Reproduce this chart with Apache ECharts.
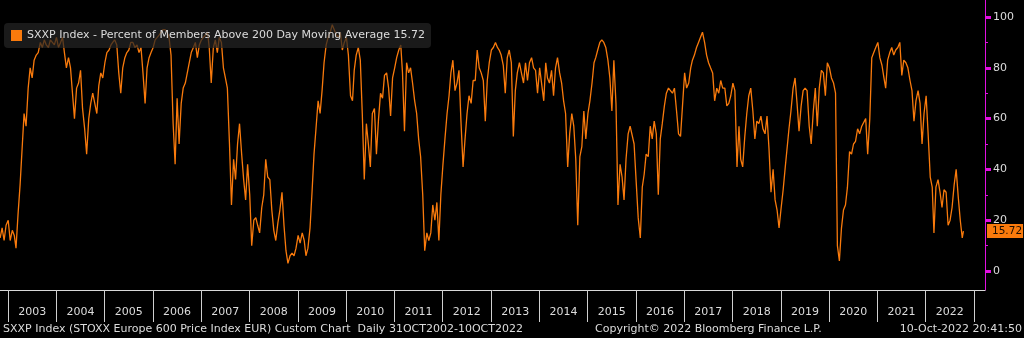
<!DOCTYPE html>
<html>
<head>
<meta charset="utf-8">
<script src="https://cdn.jsdelivr.net/npm/echarts@6/dist/echarts.min.js"></script>
<style>
html,body{margin:0;padding:0;background:#000;}
#c{width:1024px;height:338px;}
</style>
</head>
<body>
<div id="c"></div>
<script>
// ---- data (semi-monthly readings: 1st and 16th of each month) ----
const v2002 = [13, 17, 12, 18]; // Nov 1, Nov 16, Dec 1, Dec 16
const v2003 = [20, 12, 16, 14, 9, 22, 34, 48, 62, 57, 72, 80, 76, 83, 85, 86, 90, 88, 91, 89, 88, 91, 90, 89];
const v2004 = [92, 88, 90, 92, 86, 80, 84, 80, 70, 60, 72, 74, 79, 64, 56, 46, 60, 66, 70, 70, 62, 73, 78, 76];
const v2005 = [82, 86, 87, 89, 90, 91, 89, 78, 70, 80, 84, 86, 87, 90, 90, 88, 89, 86, 88, 78, 66, 80, 84, 86];
const v2006 = [88, 91, 92, 93, 94, 95, 95, 94, 92, 85, 58, 42, 68, 50, 66, 72, 74, 74, 82, 86, 88, 90, 84, 89];
const v2007 = [91, 92, 93, 94, 88, 74, 88, 91, 86, 92, 90, 80, 76, 72, 50, 26, 44, 36, 50, 58, 46, 36, 28, 42];
const v2008 = [30, 10, 20, 21, 18, 15, 25, 30, 44, 37, 36, 24, 16, 12, 19, 24, 31, 18, 8, 3, 6, 7, 6, 9];
const v2009 = [14, 11, 15, 12, 6, 9, 17, 31, 46, 56, 67, 62, 71, 82, 89, 92, 94, 97, 95, 93, 92, 94, 87, 90];
const v2010 = [92, 85, 69, 67, 79, 85, 88, 83, 62, 36, 58, 50, 41, 62, 64, 46, 60, 70, 68, 77, 78, 72, 61, 76];
const v2011 = [80, 84, 87, 89, 78, 55, 82, 78, 80, 74, 67, 62, 52, 45, 30, 8, 15, 12, 15, 26, 20, 27, 12, 30];
const v2012 = [42, 52, 62, 69, 78, 83, 71, 74, 79, 59, 41, 52, 62, 69, 66, 75, 75, 87, 80, 78, 75, 59, 75, 82];
const v2013 = [87, 88, 90, 88, 87, 85, 81, 70, 84, 87, 82, 53, 71, 78, 82, 78, 74, 82, 75, 82, 84, 80, 79, 70];
const v2014 = [80, 80, 67, 82, 76, 74, 79, 69, 80, 84, 78, 74, 67, 62, 41, 54, 62, 57, 44, 18, 45, 49, 63, 52];
const v2015 = [62, 67, 74, 82, 84, 87, 90, 91, 90, 88, 83, 76, 63, 83, 66, 26, 42, 37, 28, 44, 54, 57, 57, 50];
const v2016 = [35, 21, 13, 33, 38, 46, 45, 57, 52, 59, 54, 30, 52, 58, 65, 70, 72, 71, 70, 72, 63, 54, 53, 65];
const v2017 = [78, 72, 74, 80, 83, 85, 88, 90, 92, 94, 90, 85, 82, 80, 78, 67, 72, 70, 75, 72, 72, 65, 66, 69];
const v2018 = [74, 71, 41, 57, 44, 41, 53, 62, 69, 72, 63, 52, 59, 58, 61, 56, 54, 61, 48, 31, 40, 28, 24, 17];
const v2019 = [25, 32, 41, 49, 56, 63, 72, 76, 66, 55, 65, 71, 72, 71, 57, 50, 63, 72, 57, 72, 79, 78, 69, 82];
const v2020 = [80, 76, 74, 70, 10, 4, 17, 24, 26, 33, 47, 46, 50, 51, 56, 54, 57, 57, 60, 46, 60, 84, 86, 88];
const v2021 = [90, 84, 81, 76, 72, 83, 86, 88, 85, 87, 88, 90, 77, 83, 82, 80, 75, 71, 59, 67, 71, 66, 50, 62];
const v2022 = [69, 54, 37, 33, 15, 33, 36, 31, 25, 32, 31, 18, 20, 25, 34, 40, 29, 20, 13]; // Jan 1 .. Oct 1
const lastDate = '2022-10-10';
const lastValue = 15.72;

const yearLabels = ['2003','2004','2005','2006','2007','2008','2009','2010','2011','2012',
                    '2013','2014','2015','2016','2017','2018','2019','2020','2021','2022'];
const yTicks = [0, 20, 40, 60, 80, 100];

const seriesName = 'SXXP Index - Percent of Members Above 200 Day Moving Average 15.72';
const footerLeft = 'SXXP Index (STOXX Europe 600 Price Index EUR) Custom Chart  Daily 31OCT2002-10OCT2022';
const footerMid = 'Copyright\u00A9 2022 Bloomberg Finance L.P.';
const footerRight = '10-Oct-2022 20:41:50';

// ---- build [date, value] pairs ----
function ds(y, m, d) {
  return y + '-' + String(m + 1).padStart(2, '0') + '-' + String(d).padStart(2, '0');
}
const yearArrays = [[2003, v2003],[2004, v2004],[2005, v2005],[2006, v2006],[2007, v2007],
  [2008, v2008],[2009, v2009],[2010, v2010],[2011, v2011],[2012, v2012],[2013, v2013],
  [2014, v2014],[2015, v2015],[2016, v2016],[2017, v2017],[2018, v2018],[2019, v2019],
  [2020, v2020],[2021, v2021],[2022, v2022]];
const points = [];
v2002.forEach((v, i) => points.push([ds(2002, 10 + Math.floor(i / 2), i % 2 ? 16 : 1), v]));
yearArrays.forEach(([y, arr]) => arr.forEach((v, i) => points.push([ds(y, Math.floor(i / 2), i % 2 ? 16 : 1), v])));
points.push([lastDate, lastValue]);

const FONT = 'DejaVu Sans';
const TXT = '#dcdcdc';
const ORANGE = '#f97a0c';
const MAG = '#e010e0';

const chart = echarts.init(document.getElementById('c'), null, {renderer: 'canvas'});
chart.setOption({
  backgroundColor: '#000',
  animation: false,
  textStyle: {fontFamily: FONT},
  title: [
    {text: footerLeft, left: 3, top: 324, padding: 0, textStyle: {color: TXT, fontSize: 11, fontWeight: 'normal', fontFamily: FONT}},
    {text: footerMid, left: 595, top: 324, padding: 0, textStyle: {color: TXT, fontSize: 11, fontWeight: 'normal', fontFamily: FONT}},
    {text: footerRight, right: 2, top: 324, padding: 0, textStyle: {color: TXT, fontSize: 11, fontWeight: 'normal', fontFamily: FONT}}
  ],
  legend: {
    left: 4, top: 23,
    padding: [7, 6, 7, 7],
    itemWidth: 11, itemHeight: 11,
    icon: 'rect',
    selectedMode: false,
    backgroundColor: 'rgba(36,36,36,0.72)',
    borderRadius: 4,
    textStyle: {color: TXT, fontSize: 11, fontFamily: FONT},
    data: [{name: seriesName, itemStyle: {color: ORANGE}}]
  },
  grid: [
    {left: 0, right: 39, top: 17, bottom: 67},      // data grid (0..100)
    {left: 8, right: 50, top: 290, height: 32},     // year band
    {left: 0, right: 39, top: 0, height: 290}       // frame (axis lines)
  ],
  xAxis: [
    {gridIndex: 0, type: 'time', min: '2002-10-31', max: '2023-03-22',
      axisLine: {show: false}, axisTick: {show: false}, axisLabel: {show: false}, splitLine: {show: false}},
    {gridIndex: 1, type: 'category', data: yearLabels, position: 'bottom', boundaryGap: true,
      axisLine: {show: false},
      axisTick: {show: true, inside: true, length: 32, interval: 0, lineStyle: {color: '#cfcfcf', width: 1}},
      axisLabel: {inside: true, margin: 4, interval: 0, color: TXT, fontSize: 11, fontFamily: FONT},
      splitLine: {show: false}},
    {gridIndex: 2, type: 'value', min: 0, max: 1, position: 'bottom',
      axisLine: {show: true, onZero: false, lineStyle: {color: '#d8d8d8', width: 1}},
      axisTick: {show: false}, axisLabel: {show: false}, splitLine: {show: false}}
  ],
  yAxis: [
    {gridIndex: 0, type: 'value', position: 'right', min: yTicks[0], max: yTicks[yTicks.length - 1], interval: 20,
      axisLine: {show: false, onZero: false},
      axisTick: {show: true, length: 6, lineStyle: {color: MAG, width: 3}},
      axisLabel: {color: TXT, fontSize: 11, margin: 8, fontFamily: FONT},
      splitLine: {show: false}},
    {gridIndex: 0, type: 'value', position: 'right', min: 0, max: 100, interval: 10,
      axisLine: {show: false, onZero: false},
      axisTick: {show: true, length: 3, lineStyle: {color: MAG, width: 1}},
      axisLabel: {show: false}, splitLine: {show: false}},
    {gridIndex: 2, type: 'value', position: 'right', min: 0, max: 1,
      axisLine: {show: true, onZero: false, lineStyle: {color: MAG, width: 1}},
      axisTick: {show: false}, axisLabel: {show: false}, splitLine: {show: false}},
    {gridIndex: 1, type: 'value', min: 0, max: 1,
      axisLine: {show: false}, axisTick: {show: false}, axisLabel: {show: false}, splitLine: {show: false}}
  ],
  series: [{
    name: seriesName,
    type: 'line',
    xAxisIndex: 0, yAxisIndex: 0,
    data: points,
    showSymbol: false,
    symbol: 'none',
    lineStyle: {color: ORANGE, width: 1.3},
    itemStyle: {color: ORANGE},
    z: 3,
    markLine: {
      silent: true,
      symbol: ['none', 'none'],
      lineStyle: {width: 0, color: 'rgba(0,0,0,0)', type: 'solid'},
      data: [{yAxis: lastValue}],
      label: {
        show: true, position: 'end', distance: 2,
        formatter: String(lastValue),
        backgroundColor: ORANGE, color: '#1e0e00',
        fontSize: 10.5, fontFamily: FONT,
        padding: [2, 1, 1, 5]
      }
    }
  }]
});
</script>
</body>
</html>
